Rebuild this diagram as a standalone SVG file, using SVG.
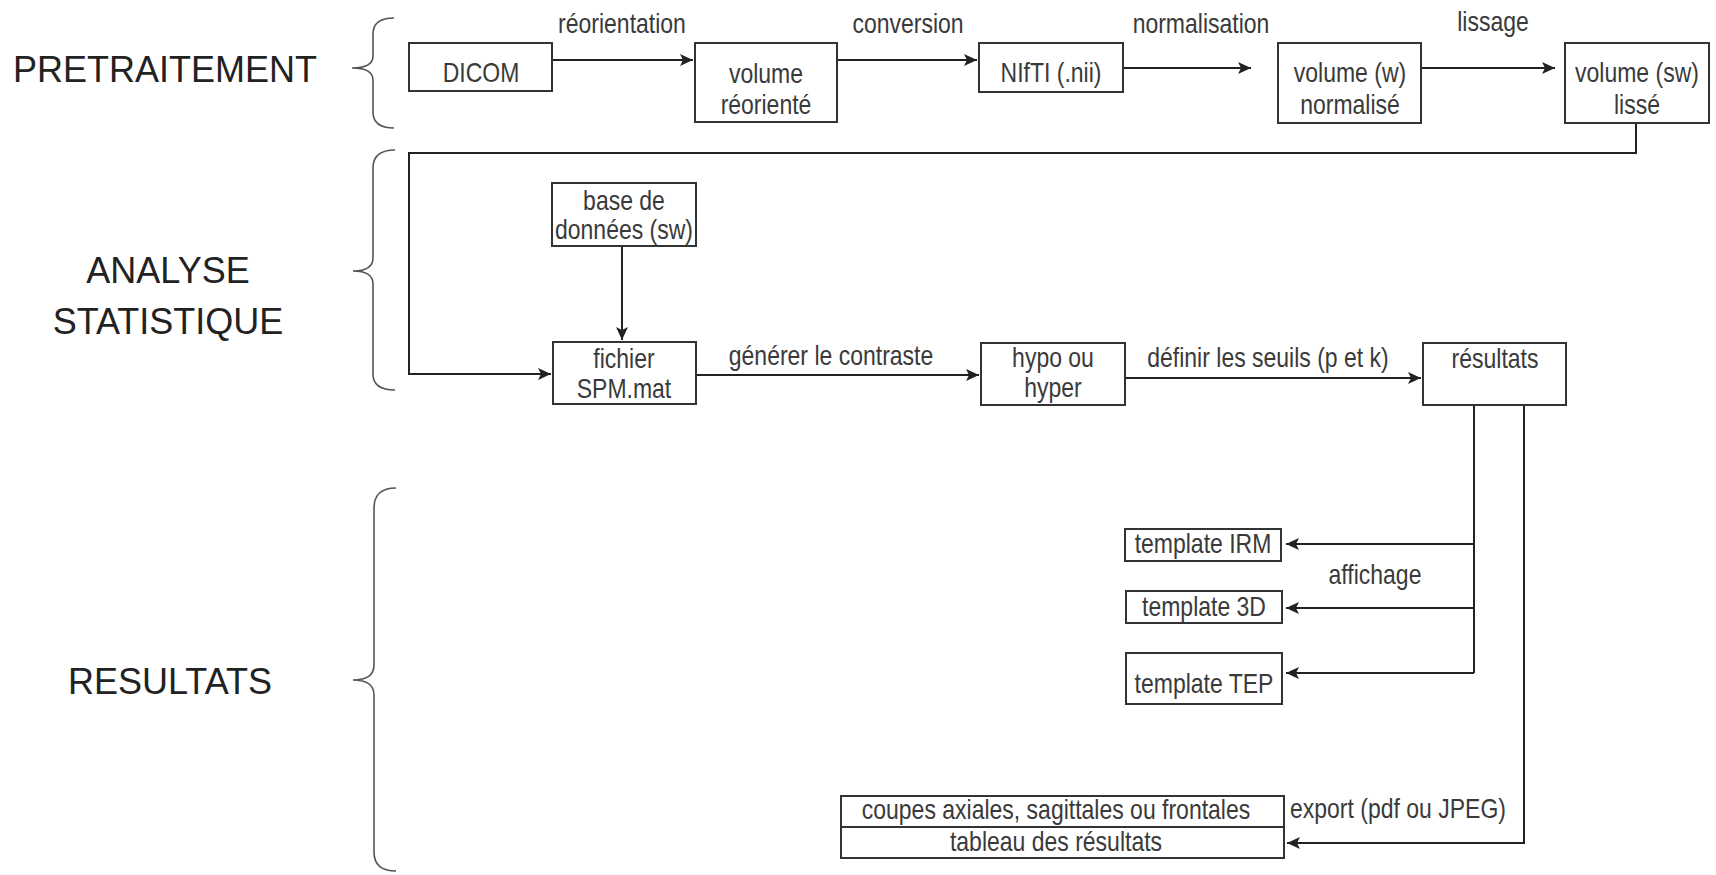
<svg xmlns="http://www.w3.org/2000/svg" width="1716" height="875" viewBox="0 0 1716 875">
<defs>
<marker id="ah" markerUnits="userSpaceOnUse" markerWidth="14" markerHeight="12" refX="13" refY="6" orient="auto">
<path d="M0,0 L13,6 L0,12 L3,6 Z" fill="#222"/>
</marker>
<style>
.box{fill:#fff;stroke:#333;stroke-width:2}
.t{font-family:"Liberation Sans",Arial,sans-serif;font-size:23px;fill:#3a3a3a;text-anchor:middle}
.lbl{font-family:"Liberation Sans",Arial,sans-serif;font-size:23px;fill:#3a3a3a}
.sec{font-family:"Liberation Sans",Arial,sans-serif;font-size:36px;fill:#222;text-anchor:middle}
.con{fill:none;stroke:#222;stroke-width:2}
.br{fill:none;stroke:#555;stroke-width:1.6}
</style>
</defs>
<rect width="1716" height="875" fill="#fff"/>

<g id="sections">
<text class="sec" transform="translate(165,82) scale(1,1.05)">PRETRAITEMENT</text>
<text class="sec" transform="translate(168,283) scale(1,1.05)">ANALYSE</text>
<text class="sec" transform="translate(168,334) scale(1,1.05)">STATISTIQUE</text>
<text class="sec" transform="translate(170,694) scale(1,1.05)">RESULTATS</text>
<path class="br" d="M394,18 Q373,18 373,34 L373,56 Q373,68 352,68 Q373,68 373,80 L373,112 Q373,128 394,128"/>
<path class="br" d="M395,150 Q373,150 373,168 L373,258 Q373,271 353,271 Q373,271 373,284 L373,374 Q373,390 395,390"/>
<path class="br" d="M396,488 Q374,488 374,508 L374,665 Q374,680 353,680 Q374,680 374,695 L374,852 Q374,871 396,871"/>
</g>

<g id="connectors">
<path class="con" d="M552,60 H693" marker-end="url(#ah)"/>
<path class="con" d="M837,60 H977" marker-end="url(#ah)"/>
<path class="con" d="M1123,68 H1251" marker-end="url(#ah)"/>
<path class="con" d="M1421,68 H1555" marker-end="url(#ah)"/>
<path class="con" d="M1636,123 V153 H409 V374 H551" marker-end="url(#ah)"/>
<path class="con" d="M622,246 V340" marker-end="url(#ah)"/>
<path class="con" d="M696,375 H979" marker-end="url(#ah)"/>
<path class="con" d="M1125,378 H1421" marker-end="url(#ah)"/>
<path class="con" d="M1474,405 V673"/>
<path class="con" d="M1474,544 H1286" marker-end="url(#ah)"/>
<path class="con" d="M1474,608 H1286" marker-end="url(#ah)"/>
<path class="con" d="M1474,673 H1286" marker-end="url(#ah)"/>
<path class="con" d="M1524,405 V843 H1287" marker-end="url(#ah)"/>
<text class="t" transform="translate(622,33) scale(1,1.2)">réorientation</text>
<text class="t" transform="translate(908,33) scale(1,1.2)">conversion</text>
<text class="t" transform="translate(1201,33) scale(1,1.2)">normalisation</text>
<text class="t" transform="translate(1493,31) scale(1,1.2)">lissage</text>
<text class="t" transform="translate(831,365) scale(1,1.2)">générer le contraste</text>
<text class="t" transform="translate(1268,367) scale(1,1.2)">définir les seuils (p et k)</text>
<text class="t" transform="translate(1375,584) scale(1,1.2)">affichage</text>
<text class="lbl" transform="translate(1290,818) scale(1,1.2)">export (pdf ou JPEG)</text>
</g>

<g id="n-dicom"><rect class="box" x="409" y="43" width="143" height="48"/><text class="t" transform="translate(481,82) scale(1,1.2)">DICOM</text></g>
<g id="n-volreo"><rect class="box" x="695" y="43" width="142" height="79"/><text class="t" transform="translate(766,83) scale(1,1.2)">volume</text><text class="t" transform="translate(766,114) scale(1,1.2)">réorienté</text></g>
<g id="n-nifti"><rect class="box" x="979" y="43" width="144" height="49"/><text class="t" transform="translate(1051,82) scale(1,1.2)">NIfTI (.nii)</text></g>
<g id="n-volw"><rect class="box" x="1278" y="43" width="143" height="80"/><text class="t" transform="translate(1350,82) scale(1,1.2)">volume (w)</text><text class="t" transform="translate(1350,114) scale(1,1.2)">normalisé</text></g>
<g id="n-volsw"><rect class="box" x="1565" y="43" width="144" height="80"/><text class="t" transform="translate(1637,82) scale(1,1.2)">volume (sw)</text><text class="t" transform="translate(1637,114) scale(1,1.2)">lissé</text></g>
<g id="n-base"><rect class="box" x="552" y="183" width="144" height="63"/><text class="t" transform="translate(624,210) scale(1,1.2)">base de</text><text class="t" transform="translate(624,239) scale(1,1.2)">données (sw)</text></g>
<g id="n-fichier"><rect class="box" x="553" y="342" width="143" height="62"/><text class="t" transform="translate(624,368) scale(1,1.2)">fichier</text><text class="t" transform="translate(624,398) scale(1,1.2)">SPM.mat</text></g>
<g id="n-hypo"><rect class="box" x="981" y="343" width="144" height="62"/><text class="t" transform="translate(1053,367) scale(1,1.2)">hypo ou</text><text class="t" transform="translate(1053,397) scale(1,1.2)">hyper</text></g>
<g id="n-resultats"><rect class="box" x="1423" y="343" width="143" height="62"/><text class="t" transform="translate(1495,368) scale(1,1.2)">résultats</text></g>
<g id="n-irm"><rect class="box" x="1125" y="529" width="156" height="32"/><text class="t" transform="translate(1203,553) scale(1,1.2)">template IRM</text></g>
<g id="n-3d"><rect class="box" x="1126" y="591" width="156" height="32"/><text class="t" transform="translate(1204,616) scale(1,1.2)">template 3D</text></g>
<g id="n-tep"><rect class="box" x="1126" y="653" width="156" height="51"/><text class="t" transform="translate(1204,693) scale(1,1.2)">template TEP</text></g>
<g id="n-export"><rect class="box" x="841" y="796" width="443" height="62"/><line x1="841" y1="827" x2="1284" y2="827" stroke="#333" stroke-width="2"/><text class="t" transform="translate(1056,819) scale(1,1.2)">coupes axiales, sagittales ou frontales</text><text class="t" transform="translate(1056,851) scale(1,1.2)">tableau des résultats</text></g>
</svg>
